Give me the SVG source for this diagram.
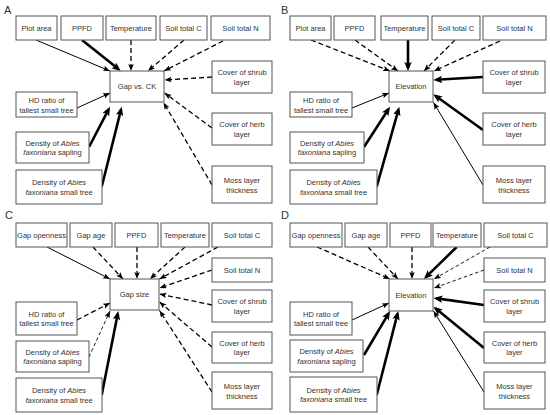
<svg xmlns="http://www.w3.org/2000/svg" width="550" height="415" viewBox="0 0 550 415">
<style>
.b{fill:#fff;stroke:#555;stroke-width:1}
.t{font-family:"Liberation Sans",Arial,sans-serif;font-size:7.5px;fill:#333;text-anchor:middle}
.p{font-family:"Liberation Sans",Arial,sans-serif;font-size:11px;fill:#333}
.s{stroke:#000;stroke-width:1;fill:none;marker-end:url(#a)}
.k{stroke:#000;stroke-width:2.6;fill:none;marker-end:url(#ak)}
.d{stroke:#000;stroke-width:1.3;stroke-dasharray:5,3;fill:none;marker-end:url(#a)}
.d2{stroke:#000;stroke-width:0.9;stroke-dasharray:3.5,2.5;fill:none;marker-end:url(#a)}
</style>
<defs>
<marker id="a" markerUnits="userSpaceOnUse" markerWidth="8" markerHeight="6" refX="7" refY="2.75" orient="auto"><path d="M0,0 L7,2.75 L0,5.5 L1.5,2.75 z" fill="#000"/></marker>
<marker id="ak" markerUnits="userSpaceOnUse" markerWidth="10" markerHeight="8" refX="6" refY="3.75" orient="auto"><path d="M0,0 L9,3.75 L0,7.5 L2,3.75 z" fill="#000"/></marker>
</defs>
<rect width="550" height="415" fill="#fff"/>
<text class="p" x="4" y="14">A</text>
<text class="p" x="281" y="14">B</text>
<text class="p" x="5" y="219">C</text>
<text class="p" x="281" y="219">D</text>

<g id="connectors">
<path class="s" d="M36,40 L110,71"/>
<path class="k" d="M82,40 L118.4,69.1"/>
<path class="d" d="M131,40 L131,71"/>
<path class="d" d="M184,40 L148,71"/>
<path class="d" d="M223,41 L164,71"/>
<path class="d" d="M212,77 L164.5,80"/>
<path class="d" d="M212,128 L164.5,93"/>
<path class="d" d="M212,185 L163.5,102.5"/>
<path class="s" d="M77,108 L110,93"/>
<path class="k" d="M89,147 L108.6,109.4"/>
<path class="k" d="M101.7,186.7 L121,109.6"/>

<path class="d" d="M311,40 L390,71"/>
<path class="d" d="M355,40 L398,71"/>
<path class="k" d="M408,40 L408,68"/>
<path class="d" d="M455,40 L424,71"/>
<path class="d" d="M500,41 L434,71"/>
<path class="k" d="M483,77 L436.3,79.8"/>
<path class="k" d="M483,130 L435.7,96"/>
<path class="s" d="M483,185 L433.5,102.5"/>
<path class="s" d="M352,108 L389,93"/>
<path class="k" d="M364,147 L388.4,109.2"/>
<path class="k" d="M376.7,186.7 L398.5,109.6"/>

<path class="s" d="M47,247 L110,279"/>
<path class="d" d="M93,247 L123,279"/>
<path class="d" d="M137,247 L137,279"/>
<path class="d" d="M185,247 L150,279"/>
<path class="d" d="M218,247 L159.5,279"/>
<path class="d" d="M212,270 L159.5,288"/>
<path class="d" d="M212,305 L159.5,294"/>
<path class="d" d="M212,347 L159.5,302"/>
<path class="d" d="M212,392 L159.5,310.5"/>
<path class="d" d="M77,320 L110,303"/>
<path class="d2" d="M89,357 L110,311"/>
<path class="k" d="M101.7,395 L117.7,313.9"/>

<path class="d" d="M317,247 L390,279"/>
<path class="d" d="M368,247 L398,279"/>
<path class="d" d="M412,247 L412,279"/>
<path class="k" d="M456.7,247 L426.1,276.9"/>
<path class="d2" d="M490,247 L434,279"/>
<path class="d2" d="M484,270 L434,288"/>
<path class="k" d="M484,305 L436.5,298.4"/>
<path class="k" d="M484,348 L435.8,308.6"/>
<path class="s" d="M484,392 L433.5,311"/>
<path class="s" d="M352,320 L389,303"/>
<path class="k" d="M364,355 L388.5,313.6"/>
<path class="k" d="M376.7,395 L397.5,313.9"/>
</g>

<!-- Panel A -->
<g id="A_plot"><rect class="b" x="16" y="16" width="41" height="24"/><text class="t" x="36.5" y="30.7">Plot area</text></g>
<g id="A_ppfd"><rect class="b" x="61" y="16" width="42" height="24"/><text class="t" x="82" y="30.7">PPFD</text></g>
<g id="A_temp"><rect class="b" x="106" y="16" width="50" height="24"/><text class="t" x="131" y="30.7">Temperature</text></g>
<g id="A_soilC"><rect class="b" x="160" y="16" width="47" height="24"/><text class="t" x="183.5" y="30.7">Soil total C</text></g>
<g id="A_soilN"><rect class="b" x="211" y="16" width="59" height="24"/><text class="t" x="240.5" y="30.7">Soil total N</text></g>
<g id="A_gap"><rect class="b" x="110" y="71" width="54" height="31"/><text class="t" x="137" y="89.2">Gap  vs.  CK</text></g>
<g id="A_hd"><rect class="b" x="16" y="92" width="61" height="25"/><text class="t" x="46.5" y="103">HD ratio of</text><text class="t" x="46.5" y="112.5">tallest small tree</text></g>
<g id="A_sap"><rect class="b" x="16" y="132" width="73" height="31"/><text class="t" x="52.5" y="145.5">Density of <tspan font-style="italic">Abies</tspan></text><text class="t" x="52.5" y="155"><tspan font-style="italic">faxoniana</tspan> sapling</text></g>
<g id="A_tree"><rect class="b" x="16" y="170" width="86" height="34"/><text class="t" x="59" y="185">Density of <tspan font-style="italic">Abies</tspan></text><text class="t" x="59" y="194.5"><tspan font-style="italic">faxoniana</tspan> small tree</text></g>
<g id="A_shrub"><rect class="b" x="212" y="61" width="60" height="32"/><text class="t" x="242" y="75">Cover of shrub</text><text class="t" x="242" y="84.5">layer</text></g>
<g id="A_herb"><rect class="b" x="212" y="113" width="60" height="32"/><text class="t" x="242" y="127">Cover of herb</text><text class="t" x="242" y="136.5">layer</text></g>
<g id="A_moss"><rect class="b" x="212" y="166" width="60" height="37"/><text class="t" x="242" y="183">Moss layer</text><text class="t" x="242" y="192.5">thickness</text></g>

<!-- Panel B -->
<g id="B_plot"><rect class="b" x="290" y="16" width="41" height="24"/><text class="t" x="310.5" y="30.7">Plot area</text></g>
<g id="B_ppfd"><rect class="b" x="334" y="16" width="41" height="24"/><text class="t" x="354.5" y="30.7">PPFD</text></g>
<g id="B_temp"><rect class="b" x="381" y="16" width="47" height="24"/><text class="t" x="404.5" y="30.7">Temperature</text></g>
<g id="B_soilC"><rect class="b" x="432" y="16" width="48" height="24"/><text class="t" x="456" y="30.7">Soil total C</text></g>
<g id="B_soilN"><rect class="b" x="483" y="16" width="63" height="24"/><text class="t" x="514.5" y="30.7">Soil total N</text></g>
<g id="B_elev"><rect class="b" x="389" y="71" width="44" height="31"/><text class="t" x="411" y="89.2">Elevation</text></g>
<g id="B_hd"><rect class="b" x="290" y="92" width="62" height="25"/><text class="t" x="321" y="103">HD ratio of</text><text class="t" x="321" y="112.5">tallest small tree</text></g>
<g id="B_sap"><rect class="b" x="290" y="132" width="74" height="31"/><text class="t" x="327" y="145.5">Density of <tspan font-style="italic">Abies</tspan></text><text class="t" x="327" y="155"><tspan font-style="italic">faxoniana</tspan> sapling</text></g>
<g id="B_tree"><rect class="b" x="290" y="170" width="87" height="34"/><text class="t" x="333.5" y="185">Density of <tspan font-style="italic">Abies</tspan></text><text class="t" x="333.5" y="194.5"><tspan font-style="italic">faxoniana</tspan> small tree</text></g>
<g id="B_shrub"><rect class="b" x="483" y="61" width="62" height="32"/><text class="t" x="514" y="75">Cover of shrub</text><text class="t" x="514" y="84.5">layer</text></g>
<g id="B_herb"><rect class="b" x="483" y="113" width="62" height="32"/><text class="t" x="514" y="127">Cover of herb</text><text class="t" x="514" y="136.5">layer</text></g>
<g id="B_moss"><rect class="b" x="483" y="166" width="62" height="37"/><text class="t" x="514" y="183">Moss layer</text><text class="t" x="514" y="192.5">thickness</text></g>

<!-- Panel C -->
<g id="C_open"><rect class="b" x="16" y="223" width="51" height="24"/><text class="t" x="41.5" y="237.7">Gap openness</text></g>
<g id="C_age"><rect class="b" x="70" y="223" width="42" height="24"/><text class="t" x="91" y="237.7">Gap age</text></g>
<g id="C_ppfd"><rect class="b" x="115" y="223" width="43" height="24"/><text class="t" x="136.5" y="237.7">PPFD</text></g>
<g id="C_temp"><rect class="b" x="161" y="223" width="48" height="24"/><text class="t" x="185" y="237.7">Temperature</text></g>
<g id="C_soilC"><rect class="b" x="212" y="223" width="60" height="24"/><text class="t" x="242" y="237.7">Soil total C</text></g>
<g id="C_size"><rect class="b" x="110" y="279" width="49" height="31"/><text class="t" x="134.5" y="297.2">Gap  size</text></g>
<g id="C_hd"><rect class="b" x="16" y="302" width="61" height="33"/><text class="t" x="46.5" y="316.5">HD ratio of</text><text class="t" x="46.5" y="326">tallest small tree</text></g>
<g id="C_sap"><rect class="b" x="16" y="341" width="73" height="31"/><text class="t" x="52.5" y="354.5">Density of <tspan font-style="italic">Abies</tspan></text><text class="t" x="52.5" y="364"><tspan font-style="italic">faxoniana</tspan> sapling</text></g>
<g id="C_tree"><rect class="b" x="16" y="378" width="86" height="34"/><text class="t" x="59" y="393">Density of <tspan font-style="italic">Abies</tspan></text><text class="t" x="59" y="402.5"><tspan font-style="italic">faxoniana</tspan> small tree</text></g>
<g id="C_soilN"><rect class="b" x="212" y="258" width="60" height="24"/><text class="t" x="242" y="272.7">Soil total N</text></g>
<g id="C_shrub"><rect class="b" x="212" y="290" width="60" height="32"/><text class="t" x="242" y="304">Cover of shrub</text><text class="t" x="242" y="313.5">layer</text></g>
<g id="C_herb"><rect class="b" x="212" y="332" width="60" height="31"/><text class="t" x="242" y="345.5">Cover of herb</text><text class="t" x="242" y="355">layer</text></g>
<g id="C_moss"><rect class="b" x="212" y="372" width="60" height="37"/><text class="t" x="242" y="389">Moss layer</text><text class="t" x="242" y="398.5">thickness</text></g>

<!-- Panel D -->
<g id="D_open"><rect class="b" x="290" y="223" width="52" height="24"/><text class="t" x="316" y="237.7">Gap openness</text></g>
<g id="D_age"><rect class="b" x="345" y="223" width="42" height="24"/><text class="t" x="366" y="237.7">Gap age</text></g>
<g id="D_ppfd"><rect class="b" x="390" y="223" width="41" height="24"/><text class="t" x="410.5" y="237.7">PPFD</text></g>
<g id="D_temp"><rect class="b" x="433" y="223" width="48" height="24"/><text class="t" x="457" y="237.7">Temperature</text></g>
<g id="D_soilC"><rect class="b" x="484" y="223" width="63" height="24"/><text class="t" x="515.5" y="237.7">Soil total C</text></g>
<g id="D_elev"><rect class="b" x="389" y="279" width="44" height="32"/><text class="t" x="411" y="297.7">Elevation</text></g>
<g id="D_hd"><rect class="b" x="290" y="302" width="62" height="33"/><text class="t" x="321" y="316.5">HD ratio of</text><text class="t" x="321" y="326">tallest small tree</text></g>
<g id="D_sap"><rect class="b" x="290" y="340" width="73" height="32"/><text class="t" x="326.5" y="354">Density of <tspan font-style="italic">Abies</tspan></text><text class="t" x="326.5" y="363.5"><tspan font-style="italic">faxoniana</tspan> sapling</text></g>
<g id="D_tree"><rect class="b" x="290" y="377" width="87" height="35"/><text class="t" x="333.5" y="392.5">Density of <tspan font-style="italic">Abies</tspan></text><text class="t" x="333.5" y="402"><tspan font-style="italic">faxoniana</tspan> small tree</text></g>
<g id="D_soilN"><rect class="b" x="484" y="258" width="61" height="24"/><text class="t" x="514.5" y="272.7">Soil total N</text></g>
<g id="D_shrub"><rect class="b" x="484" y="290" width="61" height="32"/><text class="t" x="514.5" y="304">Cover of shrub</text><text class="t" x="514.5" y="313.5">layer</text></g>
<g id="D_herb"><rect class="b" x="484" y="332" width="61" height="31"/><text class="t" x="514.5" y="345.5">Cover of herb</text><text class="t" x="514.5" y="355">layer</text></g>
<g id="D_moss"><rect class="b" x="484" y="372" width="61" height="37"/><text class="t" x="514.5" y="389">Moss layer</text><text class="t" x="514.5" y="398.5">thickness</text></g>
</svg>
